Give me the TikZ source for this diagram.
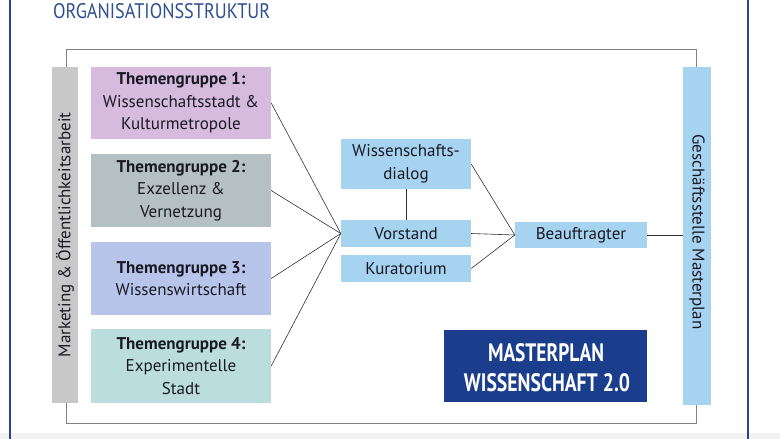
\documentclass[tikz,border=0pt]{standalone}
\usepackage{fontspec}
\setmainfont{PT Sans}
\usepackage{graphicx}
\definecolor{ttlblue}{RGB}{47,79,143}
\definecolor{frameblue}{RGB}{38,70,140}
\definecolor{mpblue}{RGB}{26,62,140}
\definecolor{lblue}{RGB}{166,211,240}
\definecolor{barg}{RGB}{200,200,200}
\definecolor{tgone}{RGB}{214,187,222}
\definecolor{tgtwo}{RGB}{181,192,196}
\definecolor{tgthree}{RGB}{184,197,234}
\definecolor{tgfour}{RGB}{187,221,221}
\definecolor{txt}{RGB}{25,25,35}
\definecolor{bandg}{RGB}{242,242,242}
\definecolor{frameg}{RGB}{130,130,130}
\definecolor{conn}{RGB}{50,50,50}
\newcommand{\bodyfont}{\fontsize{17}{22.5}\selectfont}
\begin{document}
\begin{tikzpicture}[x=1pt,y=-1pt,
  tgbox/.style={fill=#1, minimum width=180pt, inner sep=0pt, align=center, font=\bodyfont, text=txt},
  midbox/.style={fill=lblue, inner sep=0pt, align=center, font=\bodyfont, text=txt},
  conline/.style={draw=conn, line width=0.6pt},
  ]
\useasboundingbox (0,0) rectangle (780,439);
% background band
\fill[bandg] (0,433) rectangle (780,439);
% blue side lines
\draw[frameblue, line width=2.5pt] (10,0) -- (10,439);
\draw[frameblue, line width=2.5pt] (748,0) -- (748,439);
% title
\node[anchor=base west, inner sep=0pt, text=ttlblue] (title) at (53,18) {\resizebox{217pt}{15pt}{ORGANISATIONSSTRUKTUR}};
% gray frame
\draw[frameg, line width=1pt] (66,49) rectangle (696,423);
% side bars
\node[fill=barg, minimum width=26pt, minimum height=336pt, inner sep=0pt] (mk) at (65,235) {};
\node[rotate=90, font=\bodyfont, text=txt, inner sep=0pt] (mktxt) at (65,235) {Marketing \& Öffentlichkeitsarbeit};
\node[fill=lblue, minimum width=28pt, minimum height=338pt, inner sep=0pt] (gs) at (697,236) {};
\node[rotate=-90, font=\bodyfont, text=txt, inner sep=0pt] (gstxt) at (697,232) {Geschäftsstelle Masterplan};
% Themengruppen
\node[tgbox=tgone, minimum height=72pt] (tg1) at (181,103) {\textbf{Themengruppe 1:}\\Wissenschaftsstadt \&\\Kulturmetropole};
\node[tgbox=tgtwo, minimum height=73pt] (tg2) at (181,190.5) {\textbf{Themengruppe 2:}\\Exzellenz \&\\Vernetzung};
\node[tgbox=tgthree, minimum height=73pt] (tg3) at (181,278.5) {\textbf{Themengruppe 3:}\\Wissenswirtschaft};
\node[tgbox=tgfour, minimum height=74pt] (tg4) at (181,366) {\textbf{Themengruppe 4:}\\Experimentelle\\Stadt};
% middle
\node[midbox, minimum width=130pt, minimum height=50pt] (wd) at (406,164) {Wissenschafts-\\dialog};
\node[midbox, minimum width=130pt, minimum height=27pt] (vs) at (406,233.5) {Vorstand};
\node[midbox, minimum width=130pt, minimum height=27pt] (ku) at (406,268.5) {Kuratorium};
\node[midbox, minimum width=132pt, minimum height=26pt] (bf) at (581,235) {Beauftragter};
% masterplan
\node[fill=mpblue, minimum width=203pt, minimum height=72pt, inner sep=0pt] (mp) at (545.5,366) {};
\node[anchor=base, inner sep=0pt, text=white] (mpa) at (546,361) {\resizebox{116pt}{18pt}{\bfseries MASTERPLAN}};
\node[anchor=base, inner sep=0pt, text=white] (mpb) at (547,391) {\resizebox{166pt}{18pt}{\bfseries WISSENSCHAFT 2.0}};
% connectors
\draw[conline] (tg1.east) -- (vs.west);
\draw[conline] (tg2.east) -- (vs.west);
\draw[conline] (tg3.east) -- (vs.west);
\draw[conline] (tg4.east) -- (vs.west);
\draw[conline] (wd.south) -- (vs.north);
\draw[conline] (wd.east) -- (bf.west);
\draw[conline] (vs.east) -- (bf.west);
\draw[conline] (ku.east) -- (bf.west);
\draw[conline] (bf.east) -- (bf.east -| gs.west);
\end{tikzpicture}
\end{document}
